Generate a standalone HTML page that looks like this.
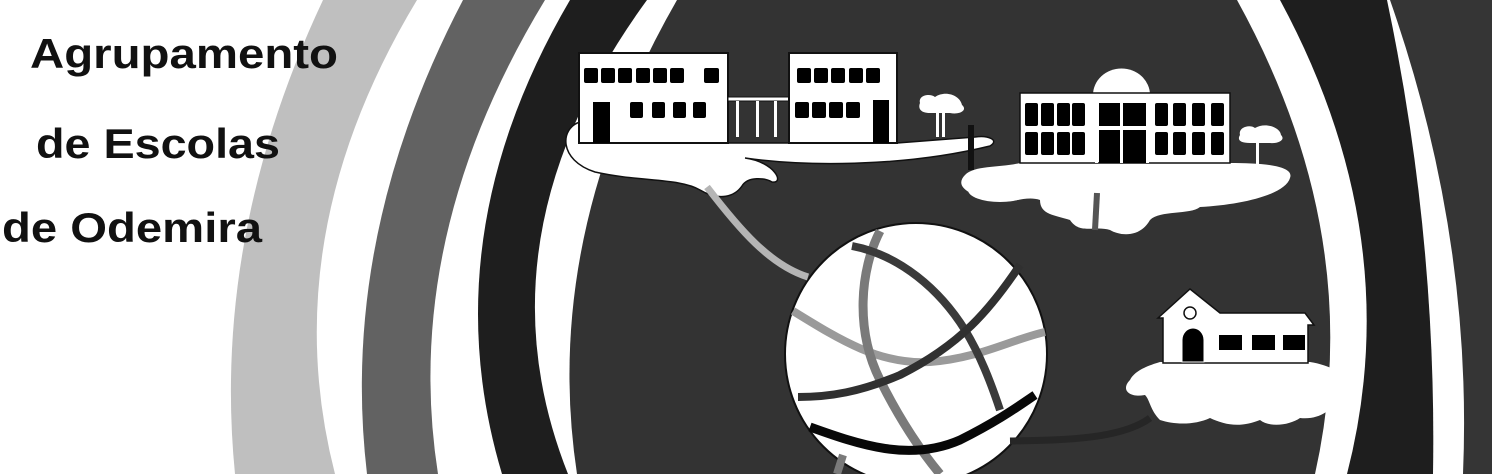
<!DOCTYPE html>
<html><head><meta charset="utf-8"><style>
html,body{margin:0;padding:0;background:#fff;overflow:hidden;width:1492px;height:474px;}
svg{display:block;}
</style></head><body>
<svg width="1492" height="474" viewBox="0 0 1492 474" xmlns="http://www.w3.org/2000/svg">
<rect width="1492" height="474" fill="#fff"/>
<!-- rings -->
<path d="M323,0 Q211.5,237 235,474 L1492,474 L1492,0Z" fill="#bfbfbf"/>
<path d="M417,0 Q274,237 335,474 L1492,474 L1492,0Z" fill="#fff"/>
<path d="M463,0 Q339,237 367,474 L1492,474 L1492,0Z" fill="#626262"/>
<path d="M545,0 Q401,237 438,474 L1492,474 L1492,0Z" fill="#fff"/>
<path d="M1390,0 Q1473,237 1463,474 L1492,474 L1492,0Z" fill="#353535"/>
<path d="M570,0 Q431,237 502,474 L1433,474 Q1437,237 1387,0Z" fill="#1e1e1e"/>
<path d="M647,0 Q474,237 568,474 L1347,474 Q1408,237 1280,0Z" fill="#fff"/>
<path d="M677,0 Q541,237 577,474 L1315,474 Q1368,237 1237,0Z" fill="#333"/>

<!-- text -->
<g font-family="Liberation Sans, sans-serif" font-weight="bold" font-size="42" fill="#111">
<text x="30" y="68" textLength="308" lengthAdjust="spacingAndGlyphs">Agrupamento</text>
<text x="36" y="158" textLength="244" lengthAdjust="spacingAndGlyphs">de Escolas</text>
<text x="2" y="242" textLength="260" lengthAdjust="spacingAndGlyphs">de Odemira</text>
</g>

<!-- island 1 -->
<path d="M580,122 C560,128 558,160 595,172 C640,182 680,178 700,190 C720,202 735,196 742,186 C748,176 765,178 772,182 C785,184 775,162 745,158 C800,166 900,168 990,146 C1000,140 988,135 975,137 L897,143 L580,143 Z" fill="#fff" stroke="#111" stroke-width="1.5"/>
<ellipse cx="1000" cy="190" rx="32" ry="12" fill="#fff"/>
<!-- building 1 -->
<rect x="579" y="53" width="149" height="90" fill="#fff" stroke="#111" stroke-width="2"/>
<g fill="#000">
<rect x="584" y="68" width="14" height="15" rx="2"/><rect x="601" y="68" width="14" height="15" rx="2"/><rect x="618" y="68" width="14" height="15" rx="2"/><rect x="636" y="68" width="14" height="15" rx="2"/><rect x="653" y="68" width="14" height="15" rx="2"/><rect x="670" y="68" width="14" height="15" rx="2"/><rect x="704" y="68" width="15" height="15" rx="2"/>
<rect x="593" y="102" width="17" height="41"/>
<rect x="630" y="102" width="13" height="16" rx="2"/><rect x="652" y="102" width="13" height="16" rx="2"/><rect x="673" y="102" width="13" height="16" rx="2"/><rect x="693" y="102" width="13" height="16" rx="2"/>
</g>
<!-- connector -->
<rect x="728" y="97" width="61" height="4" fill="#fff" stroke="#111" stroke-width="1"/>
<g fill="#fff"><rect x="736" y="101" width="3" height="36"/><rect x="756" y="101" width="3" height="36"/><rect x="774" y="101" width="3" height="36"/></g>
<!-- building 2 -->
<rect x="789" y="53" width="108" height="90" fill="#fff" stroke="#111" stroke-width="2"/>
<g fill="#000">
<rect x="797" y="68" width="14" height="15" rx="2"/><rect x="814" y="68" width="14" height="15" rx="2"/><rect x="831" y="68" width="14" height="15" rx="2"/><rect x="849" y="68" width="14" height="15" rx="2"/><rect x="866" y="68" width="14" height="15" rx="2"/>
<rect x="795" y="102" width="14" height="16" rx="2"/><rect x="812" y="102" width="14" height="16" rx="2"/><rect x="829" y="102" width="14" height="16" rx="2"/><rect x="846" y="102" width="14" height="16" rx="2"/>
<rect x="873" y="100" width="16" height="43"/>
</g>
<!-- tree 1 -->
<path d="M920,103 C918,95 930,93 935,97 C945,90 960,95 962,105 C968,110 960,115 950,113 L930,113 C920,113 918,108 920,103Z" fill="#fff"/>
<rect x="936" y="112" width="3" height="25" fill="#fff"/><rect x="942" y="112" width="3" height="25" fill="#fff"/>
<rect x="968" y="125" width="6" height="45" fill="#111"/>

<!-- island 3 -->
<path d="M965,175 C975,165 1000,168 1020,163 L1230,163 C1260,163 1295,165 1290,178 C1285,195 1240,205 1200,207 C1190,215 1160,210 1150,220 C1140,238 1120,236 1110,230 C1095,225 1080,235 1070,220 C1055,215 1040,215 1040,200 C1025,195 1010,205 995,200 C965,195 955,185 965,175Z" fill="#fff"/>
<line x1="1097" y1="193" x2="1095" y2="230" stroke="#555" stroke-width="6"/>
<!-- building 3 -->
<path d="M1093,95 A28,26 0 0 1 1150,95Z" fill="#fff"/>
<rect x="1020" y="93" width="210" height="70" fill="#fff" stroke="#111" stroke-width="1.5"/>
<g fill="#000">
<rect x="1025" y="103" width="13" height="23" rx="2"/><rect x="1041" y="103" width="13" height="23" rx="2"/><rect x="1057" y="103" width="13" height="23" rx="2"/><rect x="1072" y="103" width="13" height="23" rx="2"/>
<rect x="1025" y="132" width="13" height="23" rx="2"/><rect x="1041" y="132" width="13" height="23" rx="2"/><rect x="1057" y="132" width="13" height="23" rx="2"/><rect x="1072" y="132" width="13" height="23" rx="2"/>
<rect x="1155" y="103" width="13" height="23" rx="2"/><rect x="1173" y="103" width="13" height="23" rx="2"/><rect x="1192" y="103" width="13" height="23" rx="2"/><rect x="1211" y="103" width="13" height="23" rx="2"/>
<rect x="1155" y="132" width="13" height="23" rx="2"/><rect x="1173" y="132" width="13" height="23" rx="2"/><rect x="1192" y="132" width="13" height="23" rx="2"/><rect x="1211" y="132" width="13" height="23" rx="2"/>
<rect x="1099" y="103" width="48" height="60"/>
</g>
<g fill="#fff"><rect x="1120" y="99" width="3" height="64"/><rect x="1099" y="126" width="48" height="4"/><rect x="1095" y="99" width="3" height="64"/><rect x="1146" y="99" width="3" height="64"/></g>
<path d="M1240,135 C1238,127 1250,124 1255,128 C1265,122 1280,127 1281,135 C1286,140 1278,144 1270,143 L1250,143 C1240,143 1237,140 1240,135Z" fill="#fff"/>
<rect x="1256" y="142" width="3" height="22" fill="#fff"/>

<!-- ball -->
<circle cx="916" cy="354" r="131" fill="#fff" stroke="#111" stroke-width="2"/>
<g fill="none" stroke-linecap="butt">
<path d="M707,187 C740,230 770,265 808,277" stroke="#b5b5b5" stroke-width="7"/>
<path d="M793,311 C840,340 880,365 930,362 C980,358 1010,340 1045,332" stroke="#9a9a9a" stroke-width="8"/>
<path d="M880,231 C860,270 855,330 880,380 C900,420 920,450 940,474" stroke="#7a7a7a" stroke-width="9"/>
<path d="M837,474 L843,455" stroke="#7a7a7a" stroke-width="8"/>
<path d="M852,246 C900,255 940,290 965,330 C980,355 990,380 1000,410" stroke="#3a3a3a" stroke-width="8"/>
<path d="M1020,265 C990,310 960,345 900,375 C860,392 830,397 798,397" stroke="#303030" stroke-width="8"/>
<path d="M810,427 C860,445 910,462 960,440 C1000,420 1020,405 1035,395" stroke="#080808" stroke-width="9"/>
<path d="M1010,441 C1060,440 1120,440 1150,418" stroke="#262626" stroke-width="7"/>
</g>

<!-- island 4 -->
<path d="M1130,380 C1135,370 1150,365 1160,362 L1310,362 C1330,365 1345,375 1355,380 C1365,395 1350,400 1340,400 C1330,410 1320,420 1300,418 C1290,425 1270,428 1260,420 C1240,428 1225,425 1210,418 C1195,425 1175,425 1160,420 C1150,410 1150,400 1145,395 C1130,398 1120,390 1130,380Z" fill="#fff"/>
<!-- small house -->
<path d="M1158,318 L1190,289 L1220,313 L1305,313 L1314,325 L1308,325 L1308,363 L1163,363 L1163,318Z" fill="#fff" stroke="#111" stroke-width="1.5"/>
<path d="M1182,362 L1182,340 A11,12 0 0 1 1204,340 L1204,362Z" fill="#000" stroke="#fff" stroke-width="1"/>
<circle cx="1190" cy="313" r="6" fill="none" stroke="#111" stroke-width="1.5"/>
<g fill="#000"><rect x="1219" y="335" width="23" height="15"/><rect x="1252" y="335" width="23" height="15"/><rect x="1283" y="335" width="22" height="15"/></g>
<path d="M1350,360 L1350,375 M1345,365 L1355,365" stroke="#fff" stroke-width="2"/>
</svg>
</body></html>
